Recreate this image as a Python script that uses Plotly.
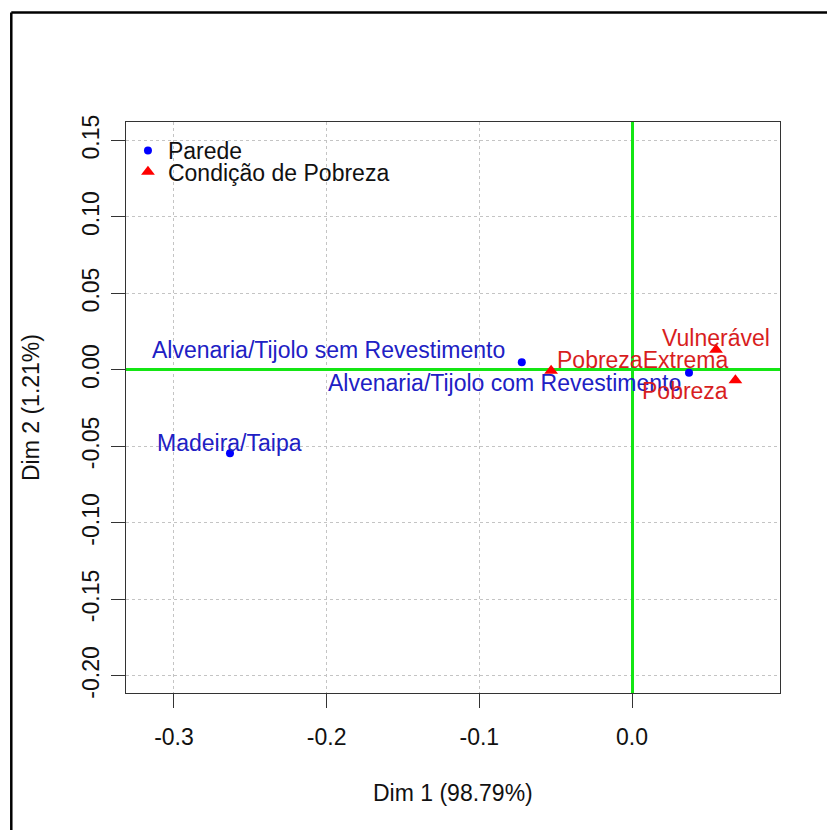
import plotly.graph_objects as go

# Correspondence analysis map: Parede x Condição de Pobreza
parede_labels = ["Madeira/Taipa",
                 "Alvenaria/Tijolo sem Revestimento",
                 "Alvenaria/Tijolo com Revestimento"]
parede_dim1 = [-0.2633, -0.0722, 0.0373]
parede_dim2 = [-0.0544, 0.0050, -0.0018]

pobreza_labels = ["PobrezaExtrema", "Vulnerável", "Pobreza"]
pobreza_dim1 = [-0.0530, 0.0550, 0.0677]
pobreza_dim2 = [-0.0005, 0.0132, -0.0067]

x_tick_vals = [-0.3, -0.2, -0.1, 0.0]
x_tick_text = ["-0.3", "-0.2", "-0.1", "0.0"]
y_tick_vals = [-0.20, -0.15, -0.10, -0.05, 0.00, 0.05, 0.10, 0.15]
y_tick_text = ["-0.20", "-0.15", "-0.10", "-0.05", "0.00", "0.05", "0.10", "0.15"]

x_title = "Dim 1 (98.79%)"
y_title = "Dim 2 (1.21%)"
legend_names = ["Parede", "Condição de Pobreza"]

FONT = "Liberation Sans, Arial, sans-serif"
FS = 23
BLUE = "#0000ff"
RED = "#ff0000"
BLUE_TXT = "#2020c4"
RED_TXT = "#d81e1e"
GREEN = "#14e614"

# label placement: (xanchor, xshift, yshift) in px
label_pos = {
    "Madeira/Taipa": ("center", 0, 10),
    "Alvenaria/Tijolo sem Revestimento": ("right", -15, 12),
    "Alvenaria/Tijolo com Revestimento": ("right", -6, -10),
    "PobrezaExtrema": ("left", 4, 11),
    "Vulnerável": ("center", 0, 12),
    "Pobreza": ("right", -5, -11),
}

fig = go.Figure()
fig.add_trace(go.Scatter(
    x=parede_dim1, y=parede_dim2, mode="markers", name=legend_names[0],
    marker=dict(symbol="circle", size=8, color=BLUE), legend="legend",
    cliponaxis=False))
fig.add_trace(go.Scatter(
    x=pobreza_dim1, y=pobreza_dim2, mode="markers", name=legend_names[1],
    marker=dict(symbol="triangle-up", size=12, color=RED), legend="legend2",
    cliponaxis=False))

annotations = []
for labels, xs, ys, col in ((parede_labels, parede_dim1, parede_dim2, BLUE_TXT),
                            (pobreza_labels, pobreza_dim1, pobreza_dim2, RED_TXT)):
    for lab, xv, yv in zip(labels, xs, ys):
        xa, dx, dy = label_pos[lab]
        annotations.append(dict(
            x=xv, y=yv, xref="x", yref="y", text=lab, showarrow=False,
            xanchor=xa, yanchor="middle", xshift=dx, yshift=dy,
            font=dict(family=FONT, size=FS, color=col)))

# axis titles
annotations.append(dict(x=0.5, y=-0.175, xref="paper", yref="paper", text=x_title,
                        showarrow=False, xanchor="center", yanchor="middle",
                        font=dict(family=FONT, size=FS, color="#111")))
annotations.append(dict(x=-0.146, y=0.5, xref="paper", yref="paper", text=y_title,
                        showarrow=False, xanchor="center", yanchor="middle", textangle=-90,
                        font=dict(family=FONT, size=FS, color="#111")))

# outer frame
shapes = [
    dict(type="line", xref="paper", yref="paper", x0=-0.1754, x1=1.1, y0=1.1919, y1=1.1919,
         line=dict(color="#000", width=2.5)),
    dict(type="line", xref="paper", yref="paper", x0=-0.1754, x1=-0.1754, y0=1.1919, y1=-0.3,
         line=dict(color="#000", width=2.5)),
]

# green zero lines mark the origin; grid stays dotted underneath
axis_common = dict(
    showline=True, mirror=True, linecolor="#333", linewidth=1.2,
    ticks="outside", ticklen=14, tickcolor="#333", tickwidth=1,
    showgrid=True, gridcolor="#c4c4c4", griddash="dot", gridwidth=1,
    zeroline=True, zerolinecolor=GREEN, zerolinewidth=2.6,
    tickfont=dict(family=FONT, size=FS, color="#111"),
)

fig.update_layout(
    width=827, height=830,
    margin=dict(l=126, r=47, t=122, b=137),
    paper_bgcolor="white", plot_bgcolor="white",
    xaxis=dict(range=[-0.3314, 0.0969], tickvals=x_tick_vals, ticktext=x_tick_text,
               ticklabelstandoff=9, **axis_common),
    yaxis=dict(range=[-0.2112, 0.1621], tickvals=y_tick_vals, ticktext=y_tick_text,
               tickangle=-90, ticklabelstandoff=3, **axis_common),
    legend=dict(x=0.003, y=0.95, xanchor="left", yanchor="middle",
                bgcolor="rgba(0,0,0,0)", font=dict(family=FONT, size=FS, color="#111")),
    legend2=dict(x=0.003, y=0.913, xanchor="left", yanchor="middle",
                 bgcolor="rgba(0,0,0,0)", font=dict(family=FONT, size=FS, color="#111")),
    showlegend=True,
    annotations=annotations,
    shapes=shapes,
)

fig.write_html("out.html")
